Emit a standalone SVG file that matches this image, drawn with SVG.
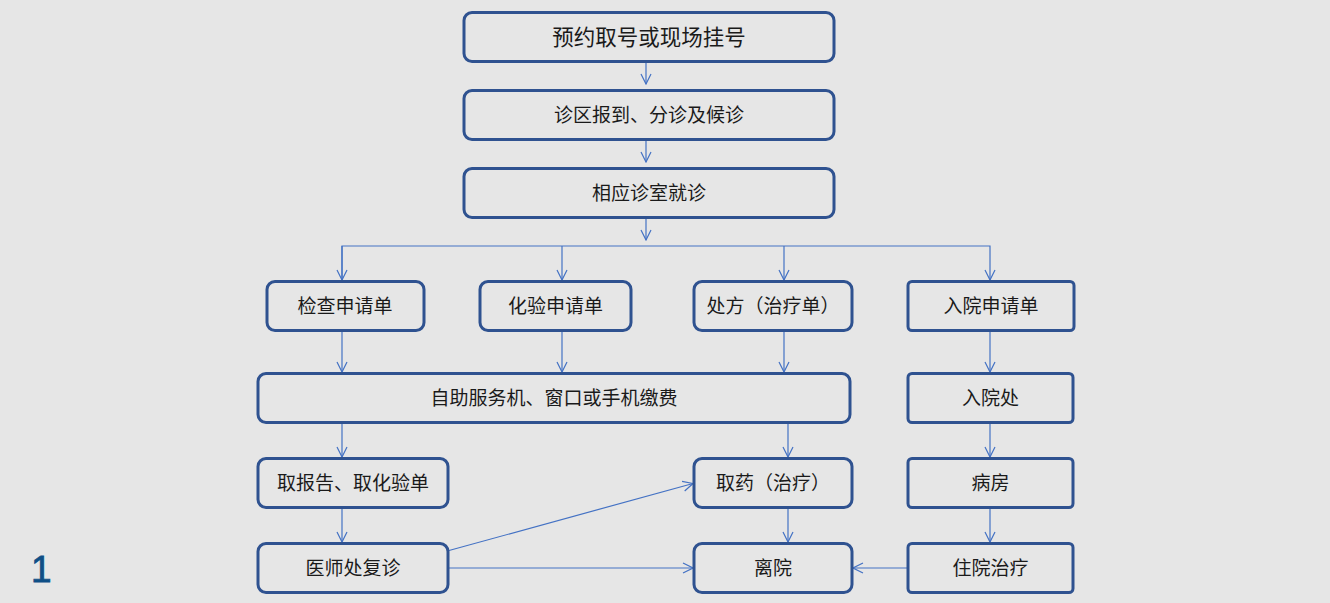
<svg xmlns="http://www.w3.org/2000/svg" width="1330" height="603" viewBox="0 0 1330 603">
<defs>
<style>
.box{fill:#e6e6e6;stroke:#2f5290;stroke-width:3;}
.t{font-family:"Noto Sans CJK SC","Noto Sans",sans-serif;font-size:19px;fill:#1a1a1a;text-anchor:middle;dominant-baseline:central;}
.big{font-size:21.5px;}
.c{fill:none;stroke:#4472c4;stroke-width:1.2;}
</style>
<marker id="ah" viewBox="0 0 12 12" refX="11" refY="6" markerWidth="12" markerHeight="12" markerUnits="userSpaceOnUse" orient="auto">
<path d="M1,1 L11,6 L1,11" fill="none" stroke="#4472c4" stroke-width="1.2"/>
</marker>
</defs>
<rect width="1330" height="603" fill="#e6e6e6"/>
<g id="connectors">
<line class="c" x1="646" y1="62" x2="646" y2="84" marker-end="url(#ah)"/>
<line class="c" x1="646" y1="140" x2="646" y2="162" marker-end="url(#ah)"/>
<line class="c" x1="646" y1="218" x2="646" y2="240" marker-end="url(#ah)"/>
<polyline class="c" points="342,280 342,246 990,246 990,280" marker-end="url(#ah)"/>
<line class="c" x1="342" y1="246" x2="342" y2="280" marker-end="url(#ah)"/>
<line class="c" x1="562" y1="246" x2="562" y2="280" marker-end="url(#ah)"/>
<line class="c" x1="784" y1="246" x2="784" y2="280" marker-end="url(#ah)"/>
<line class="c" x1="342" y1="331" x2="342" y2="372" marker-end="url(#ah)"/>
<line class="c" x1="562" y1="331" x2="562" y2="372" marker-end="url(#ah)"/>
<line class="c" x1="784" y1="331" x2="784" y2="372" marker-end="url(#ah)"/>
<line class="c" x1="990" y1="331" x2="990" y2="372" marker-end="url(#ah)"/>
<line class="c" x1="342" y1="423" x2="342" y2="457" marker-end="url(#ah)"/>
<line class="c" x1="788" y1="423" x2="788" y2="457" marker-end="url(#ah)"/>
<line class="c" x1="990" y1="423" x2="990" y2="457" marker-end="url(#ah)"/>
<line class="c" x1="342" y1="508" x2="342" y2="542" marker-end="url(#ah)"/>
<line class="c" x1="788" y1="508" x2="788" y2="542" marker-end="url(#ah)"/>
<line class="c" x1="990" y1="508" x2="990" y2="542" marker-end="url(#ah)"/>
<line class="c" x1="449" y1="568" x2="693" y2="568" marker-end="url(#ah)"/>
<line class="c" x1="449" y1="550.5" x2="693" y2="483.5" marker-end="url(#ah)"/>
<line class="c" x1="907" y1="568" x2="853" y2="568" marker-end="url(#ah)"/>
</g>
<g id="n1"><rect class="box" x="464" y="12.5" width="370" height="49" rx="8"/><text class="t big" x="649" y="35.5">预约取号或现场挂号</text></g>
<g id="n2"><rect class="box" x="464" y="90.5" width="370" height="49" rx="8"/><text class="t" x="649" y="113.5">诊区报到、分诊及候诊</text></g>
<g id="n3"><rect class="box" x="464" y="168.5" width="370" height="49" rx="8"/><text class="t" x="649" y="191.5">相应诊室就诊</text></g>
<g id="n4"><rect class="box" x="267" y="281.5" width="157" height="49" rx="8"/><text class="t" x="345" y="304.5">检查申请单</text></g>
<g id="n5"><rect class="box" x="480" y="281.5" width="151" height="49" rx="8"/><text class="t" x="555.5" y="304.5">化验申请单</text></g>
<g id="n6"><rect class="box" x="694" y="281.5" width="158" height="49" rx="8"/><text class="t" x="773" y="304.5">处方（治疗单）</text></g>
<g id="n7"><rect class="box" x="908" y="281.5" width="166" height="49" rx="4"/><text class="t" x="991" y="304.5">入院申请单</text></g>
<g id="n8"><rect class="box" x="258" y="373.5" width="592" height="49" rx="8"/><text class="t" x="554" y="396.5">自助服务机、窗口或手机缴费</text></g>
<g id="n9"><rect class="box" x="908" y="373.5" width="165" height="49" rx="4"/><text class="t" x="990.5" y="396.5">入院处</text></g>
<g id="n10"><rect class="box" x="258" y="458.5" width="190" height="49" rx="8"/><text class="t" x="353" y="481.5">取报告、取化验单</text></g>
<g id="n11"><rect class="box" x="694" y="458.5" width="158" height="49" rx="8"/><text class="t" x="773" y="481.5">取药（治疗）</text></g>
<g id="n12"><rect class="box" x="908" y="458.5" width="165" height="49" rx="4"/><text class="t" x="990.5" y="481.5">病房</text></g>
<g id="n13"><rect class="box" x="258" y="543.5" width="190" height="49" rx="8"/><text class="t" x="353" y="566.5">医师处复诊</text></g>
<g id="n14"><rect class="box" x="694" y="543.5" width="158" height="49" rx="8"/><text class="t" x="773" y="566.5">离院</text></g>
<g id="n15"><rect class="box" x="908" y="543.5" width="165" height="49" rx="4"/><text class="t" x="990.5" y="566.5">住院治疗</text></g>
<text x="31" y="582" font-family="Liberation Sans, Arial, sans-serif" font-size="37" fill="#0f4f86" stroke="#0f4f86" stroke-width="0.8">1</text>
</svg>
